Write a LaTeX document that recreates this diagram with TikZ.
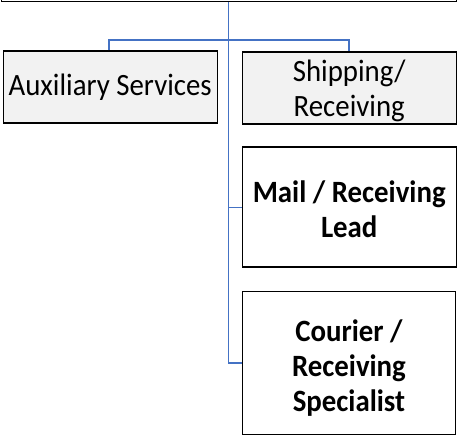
\documentclass[tikz,border=0pt]{standalone}
\usepackage{fontspec}
\setmainfont{Carlito}[FakeStretch=0.93]
\definecolor{conn}{HTML}{4472C4}
\definecolor{lightfill}{HTML}{F2F2F2}
\begin{document}
\begin{tikzpicture}[x=1pt,y=1pt,
  box/.style={draw=black,line width=1.4pt,inner sep=0pt,anchor=north west,align=center},
  regtext/.style={font=\fontsize{31}{35}\selectfont},
  boldtext/.style={font=\fontsize{31}{35}\selectfont\bfseries},
  link/.style={draw=conn,line width=1.3pt}]
\useasboundingbox (0,0) rectangle (457,-435);
\node[box,minimum width=455pt,minimum height=40pt,anchor=south west] (top) at (0.7,-2.2) {};
\node[box,fill=lightfill,minimum width=214pt,minimum height=72pt,regtext] (aux) at (2.5,-50.5) {Auxiliary Services};
\node[box,fill=lightfill,minimum width=214pt,minimum height=72pt,regtext] (ship) at (241.5,-51.5) {};
\node[regtext,align=center,inner sep=0pt] (shiptext) at ([yshift=-2.5pt]ship.center) {Shipping/\\Receiving};
\node[box,fill=white,minimum width=214pt,minimum height=120pt,boldtext] (mail) at (241.5,-146.5) {};
\node[boldtext,align=center,inner sep=0pt] (mailtext) at ([yshift=-2pt]mail.center) {Mail / Receiving\\Lead};
\node[box,fill=white,minimum width=213.5pt,minimum height=142.5pt,boldtext] (cour) at (241.5,-291) {};
\node[boldtext,align=center,inner sep=0pt] (courtext) at ([yshift=-5pt]cour.center) {Courier /\\Receiving\\Specialist};
\coordinate (trunk) at (228.7,-40);
\draw[link] (top.south -| trunk) -- (trunk |- cour.west) -- (cour.west);
\draw[link] (aux.north -| 109,0) -- (109,-40) -- (349,-40) -- (ship.north -| 349,0);
\draw[link] (trunk |- mail.west) -- (mail.west);
\end{tikzpicture}
\end{document}
